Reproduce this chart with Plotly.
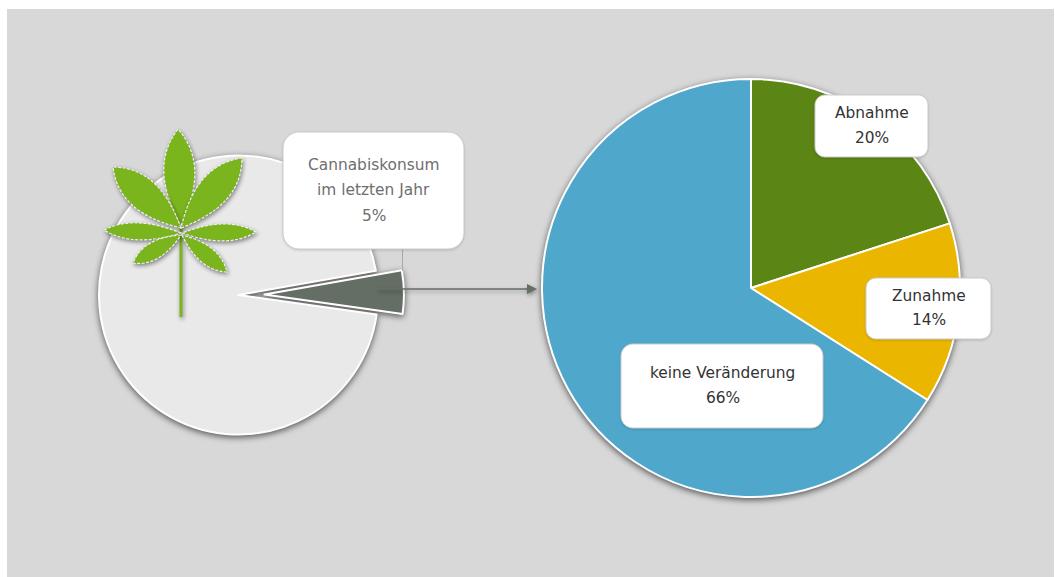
import math
import plotly.graph_objects as go

W, H = 1055, 577

# Data
left_labels = ["Cannabiskonsum im letzten Jahr", "kein Konsum"]
left_values = [5, 95]
right_labels = ["Abnahme", "Zunahme", "keine Veränderung"]
right_values = [20, 14, 66]
right_colors = ["#5B8514", "#EAB600", "#4FA8CC"]
callout_left = ["Cannabiskonsum", "im letzten Jahr", "5%"]
callout_abnahme = ["Abnahme", "20%"]
callout_zunahme = ["Zunahme", "14%"]
callout_keine = ["keine Veränderung", "66%"]

BG = "#D8D8D8"
GREEN = "#7AB51D"
SLICE = "#646E64"


def px(x):
    return x / W


def py(y):
    return 1 - y / H


def pt(x, y):
    return f"{px(x):.5f},{py(y):.5f}"


def rounded(x0, y0, x1, y1, r):
    k = r * 0.45
    return (
        f"M{pt(x0 + r, y0)} L{pt(x1 - r, y0)} C{pt(x1 - k, y0)} {pt(x1, y0 + k)} {pt(x1, y0 + r)} "
        f"L{pt(x1, y1 - r)} C{pt(x1, y1 - k)} {pt(x1 - k, y1)} {pt(x1 - r, y1)} "
        f"L{pt(x0 + r, y1)} C{pt(x0 + k, y1)} {pt(x0, y1 - k)} {pt(x0, y1 - r)} "
        f"L{pt(x0, y0 + r)} C{pt(x0, y0 + k)} {pt(x0 + k, y0)} {pt(x0 + r, y0)} Z"
    )


def leaflet(bx, by, tx, ty, width):
    dx, dy = tx - bx, ty - by
    n = math.hypot(dx, dy)
    nx, ny = -dy / n, dx / n
    c = width / 2 / 0.75
    a1, a2 = 0.42, 0.74
    p1 = (bx + dx * a1 + nx * c, by + dy * a1 + ny * c)
    p2 = (bx + dx * a2 + nx * c, by + dy * a2 + ny * c)
    p3 = (bx + dx * a2 - nx * c, by + dy * a2 - ny * c)
    p4 = (bx + dx * a1 - nx * c, by + dy * a1 - ny * c)
    return (
        f"M{pt(bx, by)} C{pt(*p1)} {pt(*p2)} {pt(tx, ty)} "
        f"C{pt(*p3)} {pt(*p4)} {pt(bx, by)} Z"
    )


shapes = [
    dict(type="rect", xref="paper", yref="paper", x0=px(7), x1=px(1054), y0=py(9), y1=py(577),
         fillcolor=BG, line_width=0, layer="below"),
]

# Connector and arrow
shapes.append(dict(type="line", xref="paper", yref="paper", x0=px(402.5), x1=px(402.5), y0=py(249), y1=py(271),
                   line=dict(color="#A8A8A8", width=1)))
first_arrow = len(shapes)
shapes.append(dict(type="line", xref="paper", yref="paper", x0=px(377), x1=px(530), y0=py(289), y1=py(289),
                   line=dict(color=SLICE, width=1.3)))
shapes.append(dict(type="path", xref="paper", yref="paper",
                   path=f"M{pt(537, 289)} L{pt(527, 284)} L{pt(527, 294)} Z",
                   fillcolor=SLICE, line_width=0))
last_arrow = len(shapes)

first_leaf = len(shapes)
# Leaf
leaves = [
    (181, 226, 178, 129, 31),
    (181, 228, 113, 167, 31),
    (181, 228, 242, 158, 31),
    (181, 233, 104, 230, 17),
    (182, 233, 256, 232, 17),
    (181, 235, 133, 263, 17),
    (182, 235, 227, 272, 17),
]
shapes.append(dict(type="line", xref="paper", yref="paper", x0=px(181), x1=px(181), y0=py(228), y1=py(317),
                   line=dict(color=GREEN, width=3)))
for lf in leaves:
    shapes.append(dict(type="path", xref="paper", yref="paper", path=leaflet(*lf), fillcolor=GREEN,
                       line=dict(color="#EFEFEF", width=1.2, dash="3px,1.5px")))
last_leaf = len(shapes)

# Callouts
boxes = [(283, 132, 464, 249, 16), (815, 95, 928, 157, 10), (866, 278, 991, 339, 10), (621, 344, 823, 428, 12)]
first_box = len(shapes)
for b in boxes:
    shapes.append(dict(type="path", xref="paper", yref="paper", path=rounded(*b), fillcolor="#FFFFFF",
                       line=dict(color="#CCCCCC", width=1)))
last_box = len(shapes)


def ann(text, x, y, color):
    return dict(text=text, xref="paper", yref="paper", x=px(x), y=py(y), xanchor="center", yanchor="middle",
                showarrow=False, font=dict(family="DejaVu Sans", size=15.4, color=color))


annotations = []
for line, y in zip(callout_left, (165, 190, 216)):
    annotations.append(ann(line, 373.5, y, "#6E6E6E"))
for line, y in zip(callout_abnahme, (113, 138)):
    annotations.append(ann(line, 872, y, "#333333"))
for line, y in zip(callout_zunahme, (296, 320)):
    annotations.append(ann(line, 929, y, "#333333"))
for line, y in zip(callout_keine, (373, 398)):
    annotations.append(ann(line, 722.5, y, "#333333"))

fig = go.Figure()
pull = 0.186
r_left = 139.5
ext = r_left * (1 + pull)
cx_left = 238.5
fig.add_trace(go.Pie(
    labels=left_labels, values=left_values, sort=False, direction="clockwise", rotation=80,
    pull=[pull, 0], textinfo="none", hoverinfo="skip", showlegend=False,
    marker=dict(colors=[SLICE, "#E9E9E9"], line=dict(color="#FFFFFF", width=2)),
    domain=dict(x=[px(cx_left - ext), px(cx_left + ext)], y=[py(295 + ext), py(295 - ext)]),
))
fig.add_trace(go.Pie(
    labels=right_labels, values=right_values, sort=False, direction="clockwise", rotation=0,
    textinfo="none", hoverinfo="skip", showlegend=False,
    marker=dict(colors=right_colors, line=dict(color="#FFFFFF", width=2)),
    domain=dict(x=[px(751 - 209), px(751 + 209)], y=[py(288 + 209), py(288 - 209)]),
))
fig.update_layout(width=W, height=H, margin=dict(l=0, r=0, t=0, b=0), paper_bgcolor="#FFFFFF",
                  shapes=shapes, annotations=annotations, showlegend=False, hovermode=False)

post = f"""
document.documentElement.style.margin='0';document.body.style.margin='0';
var gd=document.getElementById('{{plot_id}}');
gd.querySelectorAll('.pielayer .trace').forEach(function(t){{t.style.filter='drop-shadow(0 2px 3px rgba(0,0,0,0.6))';}});
gd.querySelectorAll('.layer-above .shapelayer path').forEach(function(p){{
  var i=+p.getAttribute('data-index');
  if(i>={first_arrow}&&i<{last_arrow})p.style.filter='drop-shadow(1px 2px 2px rgba(0,0,0,0.35))';
  if(i>={first_leaf}&&i<{last_leaf})p.style.filter='drop-shadow(1px 2px 2px rgba(0,0,0,0.45))';
  if(i>={first_box}&&i<{last_box})p.style.filter='drop-shadow(0 1px 1px rgba(0,0,0,0.15))';
}});
"""
fig.write_html("out.html", config=dict(displayModeBar=False, staticPlot=True), post_script=post)
